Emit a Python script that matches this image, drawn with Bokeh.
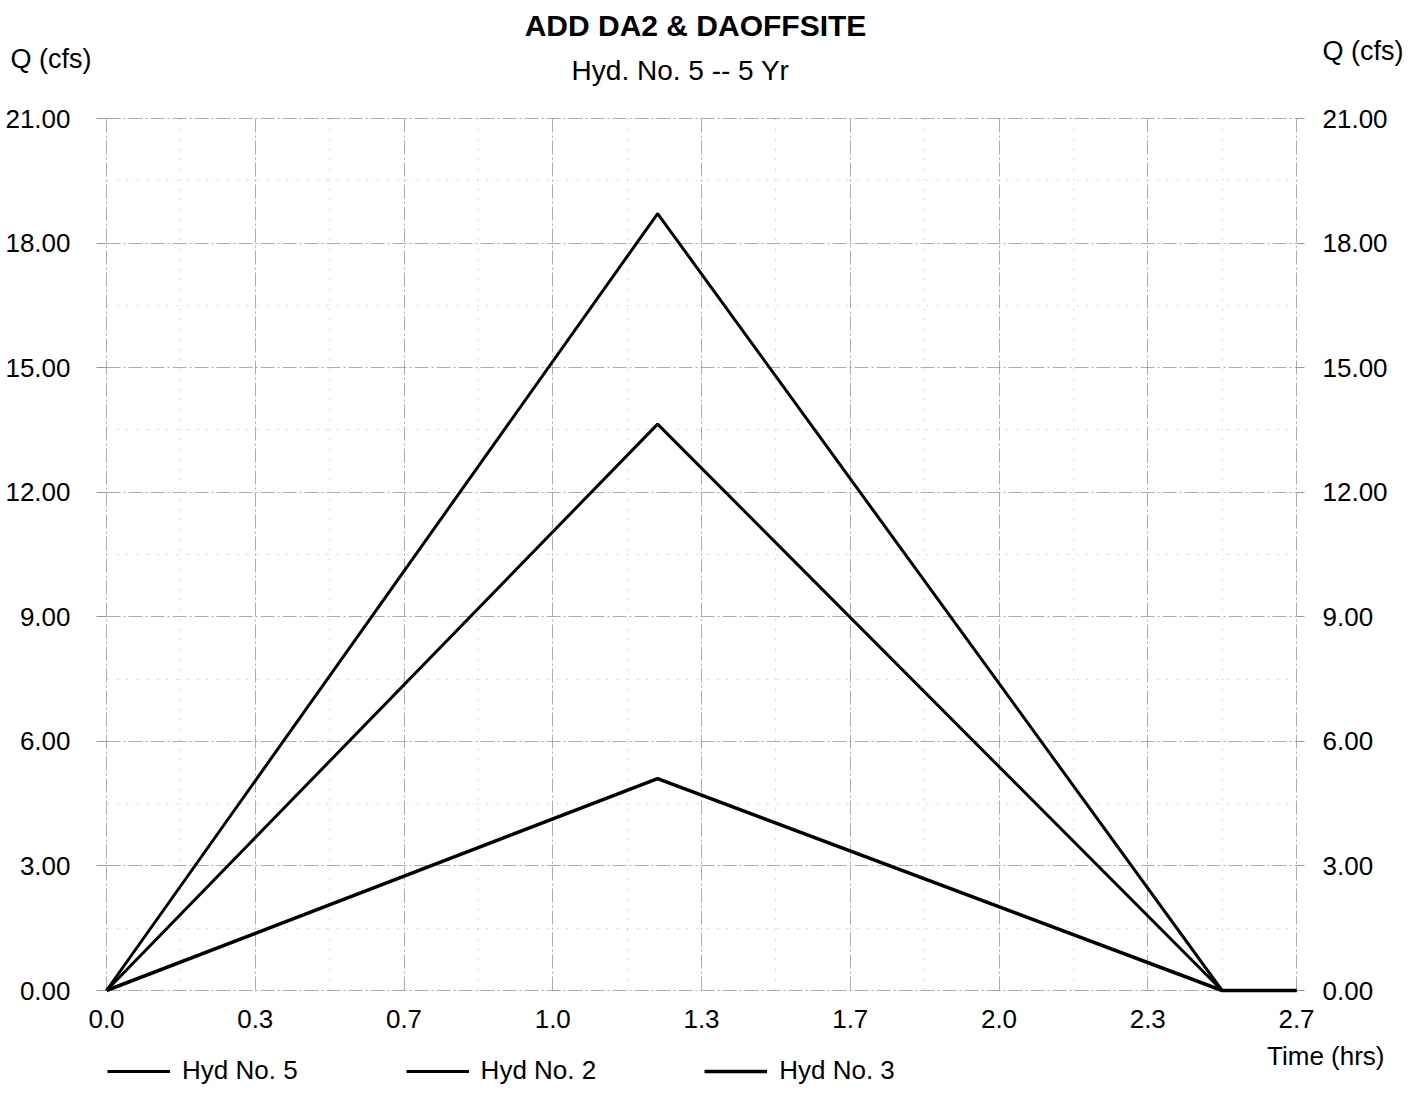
from bokeh.plotting import figure
from bokeh.models import (LinearAxis, FixedTicker, NumeralTickFormatter, Label,
                          Legend, LegendItem, Range1d, Grid)
from bokeh.embed import file_html
from bokeh.resources import INLINE

# ---- data ----
time_hrs = [0.0, 1.235, 2.50, 2.667]
hyd5 = [0.0, 18.71, 0.0, 0.0]
hyd2 = [0.0, 13.64, 0.0, 0.0]
hyd3 = [0.0, 5.10, 0.0, 0.0]

x_ticks = [0.0, 1/3, 2/3, 1.0, 4/3, 5/3, 2.0, 7/3, 8/3]
x_minor = [1/6, 0.5, 5/6, 7/6, 1.5, 11/6, 13/6, 2.5]
y_ticks = [0, 3, 6, 9, 12, 15, 18, 21]
y_minor = [1.5, 4.5, 7.5, 10.5, 13.5, 16.5, 19.5]

title_text = "ADD DA2 & DAOFFSITE"
subtitle_text = "Hyd. No. 5 -- 5 Yr"
y_label = "Q (cfs)"
x_label = "Time (hrs)"
series_names = ["Hyd No. 5", "Hyd No. 2", "Hyd No. 3"]

FONT = "Liberation Sans"

# ---- layout: frame covers the whole canvas; the plotting box is placed by range ----
W, H = 1403, 1088
X0, X1 = 0.0, 8/3          # data extent of the plotting box
Y0, Y1 = 0.0, 21.0
BOX_L, BOX_R = 106, 1296    # canvas px of the box (x)
BOX_T, BOX_B = 118, 990     # canvas px of the box (y, from top)
sx = (BOX_R - BOX_L) / (X1 - X0)
sy = (BOX_B - BOX_T) / (Y1 - Y0)
xr = Range1d(X0 - BOX_L / sx, X1 + (W - BOX_R) / sx)
yr = Range1d(Y0 - (H - BOX_B) / sy, Y1 + BOX_T / sy)

p = figure(width=W, height=H, output_backend="svg", toolbar_location=None,
           x_range=xr, y_range=yr, x_axis_location=None, y_axis_location=None,
           min_border=0)
p.outline_line_color = None
p.background_fill_color = "white"
p.border_fill_color = "white"
p.xgrid.visible = False
p.ygrid.visible = False

xt = FixedTicker(ticks=x_ticks, minor_ticks=x_minor)
yt = FixedTicker(ticks=y_ticks, minor_ticks=y_minor)

bottom = LinearAxis(ticker=xt, formatter=NumeralTickFormatter(format="0.0"),
                    fixed_location=Y0, bounds=(X0, X1))
left = LinearAxis(ticker=yt, formatter=NumeralTickFormatter(format="0.00"),
                  fixed_location=X0, bounds=(Y0, Y1))
right = LinearAxis(ticker=yt, formatter=NumeralTickFormatter(format="0.00"),
                   fixed_location=X1, bounds=(Y0, Y1))
p.add_layout(bottom, "below")
p.add_layout(left, "left")
p.add_layout(right, "right")

for ax in [bottom, left, right]:
    ax.axis_line_color = None
    ax.minor_tick_line_color = None
    ax.major_tick_in = 0
    ax.major_tick_line_color = "#999999"
    ax.major_label_text_font = FONT
    ax.major_label_text_font_size = "26px"
    ax.major_label_text_color = "black"

bottom.major_tick_out = 0
bottom.major_label_standoff = 15
left.major_tick_out = 10
left.major_label_standoff = 26
right.major_tick_out = 8
right.major_label_standoff = 18

xgrid = Grid(dimension=0, ticker=xt, bounds=(X0, X1), cross_bounds=(Y0, Y1))
ygrid = Grid(dimension=1, ticker=yt, bounds=(Y0, Y1), cross_bounds=(X0, X1))
for g in [xgrid, ygrid]:
    g.grid_line_color = "#8a8a8a"
    g.grid_line_alpha = 0.7
    g.grid_line_width = 1
    g.grid_line_dash = "14 3 2 3"
    g.minor_grid_line_color = "#b8b8b8"
    g.minor_grid_line_alpha = 0.6
    g.minor_grid_line_width = 1
    g.minor_grid_line_dash = "2 8"
    p.add_layout(g)

# series
r5 = p.line(time_hrs, hyd5, line_color="black", line_width=3)
r2 = p.line(time_hrs, hyd2, line_color="black", line_width=3)
r3 = p.line(time_hrs, hyd3, line_color="black", line_width=3.5)

legend = Legend(items=[LegendItem(label=series_names[0], renderers=[r5]),
                       LegendItem(label=series_names[1], renderers=[r2]),
                       LegendItem(label=series_names[2], renderers=[r3])],
                orientation="horizontal", location=(107, 2),
                glyph_width=63, glyph_height=26, label_height=26,
                label_standoff=12, spacing=108, padding=0, margin=0,
                border_line_color=None, background_fill_alpha=0,
                label_text_font=FONT, label_text_font_size="26px",
                label_text_color="black")
p.add_layout(legend)

# texts (screen px, measured from the canvas bottom-left)
def add_label(text, x, y, size, align="left", baseline="middle", style="normal"):
    p.add_layout(Label(x=x, y=y, x_units="screen", y_units="screen", text=text,
                       text_font=FONT, text_font_size=size, text_align=align,
                       text_baseline=baseline, text_font_style=style,
                       text_color="black"))

add_label(title_text, 695, H - 25, "30px", align="center", style="bold")
add_label(subtitle_text, 680, H - 70, "28px", align="center")
add_label(y_label, 10, H - 58, "27px", align="left")
add_label(y_label, 1322, H - 50, "27px", align="left")
add_label(x_label, 1384, H - 1055, "26px", align="right")

open("out.html", "w").write(file_html(p, INLINE))
